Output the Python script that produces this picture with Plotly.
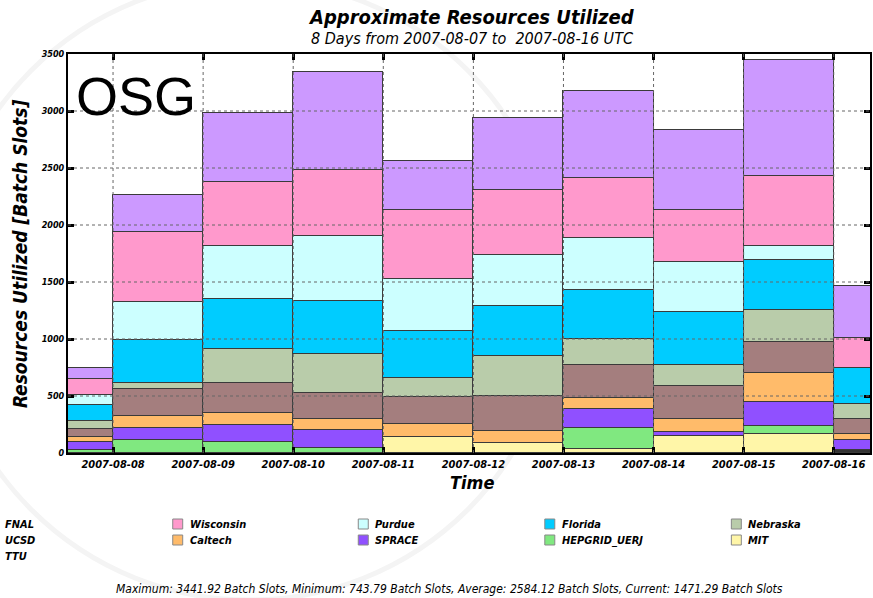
import plotly.graph_objects as go

days = ["2007-08-07", "2007-08-08", "2007-08-09", "2007-08-10", "2007-08-11",
        "2007-08-12", "2007-08-13", "2007-08-14", "2007-08-15", "2007-08-16"]

# stacked bottom -> top
TTU       = [0, 0, 0, 0, 0, 0, 0, 0, 0, 25]
MIT       = [0, 0, 0, 0, 143, 90, 35, 145, 164, 0]
HEPGRID   = [26, 114, 99, 48, 0, 0, 187, 0, 73, 0]
SPRACE    = [73, 102, 143, 151, 0, 0, 160, 37, 213, 90]
Caltech   = [44, 108, 105, 99, 108, 100, 99, 116, 254, 55]
UCSD      = [65, 236, 263, 231, 242, 306, 292, 289, 269, 126]
Nebraska  = [73, 55, 298, 341, 166, 356, 224, 187, 280, 131]
Florida   = [140, 380, 440, 466, 408, 440, 432, 460, 438, 322]
Purdue    = [88, 329, 464, 569, 461, 444, 460, 444, 123, 0]
Wisconsin = [140, 613, 569, 578, 604, 569, 525, 452, 619, 258]
FNAL      = [95, 330, 601, 860, 431, 633, 765, 705, 1012, 462]

series = [
    ("TTU", TTU, "#333333"),
    ("MIT", MIT, "#FFF6A8"),
    ("HEPGRID_UERJ", HEPGRID, "#80E880"),
    ("SPRACE", SPRACE, "#9050FF"),
    ("Caltech", Caltech, "#FFBB6A"),
    ("UCSD", UCSD, "#A47E7E"),
    ("Nebraska", Nebraska, "#B9CCAA"),
    ("Florida", Florida, "#00CCFF"),
    ("Purdue", Purdue, "#CCFFFF"),
    ("Wisconsin", Wisconsin, "#FF99CC"),
    ("FNAL", FNAL, "#CC99FF"),
]

legend_rows = [
    ["FNAL", "Wisconsin", "Purdue", "Florida", "Nebraska"],
    ["UCSD", "Caltech", "SPRACE", "HEPGRID_UERJ", "MIT"],
    ["TTU"],
]

y_ticks = [0, 500, 1000, 1500, 2000, 2500, 3000, 3500]
x_ticks = days[1:]

title = "Approximate Resources Utilized"
subtitle = "8 Days from 2007-08-07 to  2007-08-16 UTC"
footer = ("Maximum: 3441.92 Batch Slots, Minimum: 743.79 Batch Slots, "
          "Average: 2584.12 Batch Slots, Current: 1471.29 Batch Slots")

FONT = "DejaVu Sans Condensed, Liberation Sans Narrow, DejaVu Sans, sans-serif"
DAY_MS = 86400000

fig = go.Figure()
for name, vals, color in series:
    fig.add_trace(go.Bar(
        x=days, y=vals, name=name, width=DAY_MS, offset=0,
        marker=dict(color=color, line=dict(color="#3a3a3a", width=1)),
        showlegend=False, hoverinfo="skip",
    ))

W, H = 873, 598
L, R, T, B = 68, 1, 54, 145
pw, ph = W - L - R, H - T - B

def px_to_paper_x(px):
    return (px - L) / pw

def px_to_paper_y(py):
    return (H - B - py) / ph

shapes = []
# faint watermark arcs
shapes.append(dict(type="circle", xref="paper", yref="paper",
                   x0=px_to_paper_x(-60), x1=px_to_paper_x(560),
                   y0=px_to_paper_y(600), y1=px_to_paper_y(-20),
                   line=dict(color="#f4f4f4", width=5), layer="below"))
# dotted grid above bars
for v in y_ticks[1:-1]:
    shapes.append(dict(type="line", xref="paper", x0=0, x1=1, yref="y", y0=v, y1=v,
                       line=dict(color="#666666", width=1, dash="dot"), layer="above"))
for d in x_ticks:
    shapes.append(dict(type="line", xref="x", x0=d, x1=d, yref="paper", y0=0, y1=1,
                       line=dict(color="#666666", width=1, dash="dot"), layer="above"))

annotations = []
annotations.append(dict(text="OSG", xref="paper", yref="paper",
                        x=px_to_paper_x(74), y=px_to_paper_y(96), xanchor="left", yanchor="middle",
                        showarrow=False, font=dict(family="Liberation Sans, Arial", size=54, color="black")))
annotations.append(dict(text=title, xref="paper", yref="paper",
                        x=px_to_paper_x(473), y=px_to_paper_y(17), xanchor="center", yanchor="middle",
                        showarrow=False, font=dict(family=FONT, size=20, color="black", weight="bold", style="italic")))
annotations.append(dict(text=subtitle, xref="paper", yref="paper",
                        x=px_to_paper_x(474), y=px_to_paper_y(38), xanchor="center", yanchor="middle",
                        showarrow=False, font=dict(family=FONT, size=16, color="black", style="italic")))
annotations.append(dict(text="Resources Utilized [Batch Slots]", xref="paper", yref="paper",
                        x=px_to_paper_x(20), y=px_to_paper_y(254), xanchor="center", yanchor="middle",
                        textangle=-90, showarrow=False,
                        font=dict(family=FONT, size=19, color="black", weight="bold", style="italic")))
annotations.append(dict(text="Time", xref="paper", yref="paper",
                        x=px_to_paper_x(473), y=px_to_paper_y(482), xanchor="center", yanchor="middle",
                        showarrow=False, font=dict(family=FONT, size=18, color="black", weight="bold", style="italic")))
annotations.append(dict(text=footer, xref="paper", yref="paper",
                        x=px_to_paper_x(450), y=px_to_paper_y(589), xanchor="center", yanchor="middle",
                        showarrow=False, font=dict(family=FONT, size=12, color="black", style="italic")))

colors = {n: c for n, _, c in series}
col_x = [3, 188, 374, 561, 748]
row_y = [524, 540, 556]
for ri, row in enumerate(legend_rows):
    for ci, name in enumerate(row):
        tx = col_x[ci]
        ty = row_y[ri]
        annotations.append(dict(text=name, xref="paper", yref="paper",
                                x=px_to_paper_x(tx), y=px_to_paper_y(ty), xanchor="left", yanchor="middle",
                                showarrow=False,
                                font=dict(family=FONT, size=11, color="black", weight="bold", style="italic")))
        sx = tx - 15
        shapes.append(dict(type="rect", xref="paper", yref="paper",
                           x0=px_to_paper_x(sx), x1=px_to_paper_x(sx + 10),
                           y0=px_to_paper_y(ty + 5), y1=px_to_paper_y(ty - 5),
                           fillcolor=colors[name], line=dict(color="#888888", width=1)))

axis_common = dict(showline=True, linecolor="black", linewidth=2, mirror="allticks",
                   ticks="inside", ticklen=6, tickwidth=3, tickcolor="black",
                   showgrid=False, zeroline=False, layer="above traces")

fig.update_layout(
    width=W, height=H, margin=dict(l=L, r=R, t=T, b=B, pad=0),
    paper_bgcolor="white", plot_bgcolor="rgba(0,0,0,0)",
    barmode="stack", bargap=0,
    shapes=shapes, annotations=annotations, showlegend=False,
    xaxis=dict(type="date", range=["2007-08-07 12:00", "2007-08-16 09:40"],
               tickvals=x_ticks, tickformat="%Y-%m-%d",
               tickfont=dict(family=FONT, size=11, color="black", weight="bold", style="italic"),
               **axis_common),
    yaxis=dict(range=[0, 3500], tickvals=y_ticks,
               tickfont=dict(family=FONT, size=9, color="black", weight="bold", style="italic"),
               **axis_common),
)

fig.write_html("out.html", config={"displayModeBar": False},
               post_script="document.body.style.margin='0';")
